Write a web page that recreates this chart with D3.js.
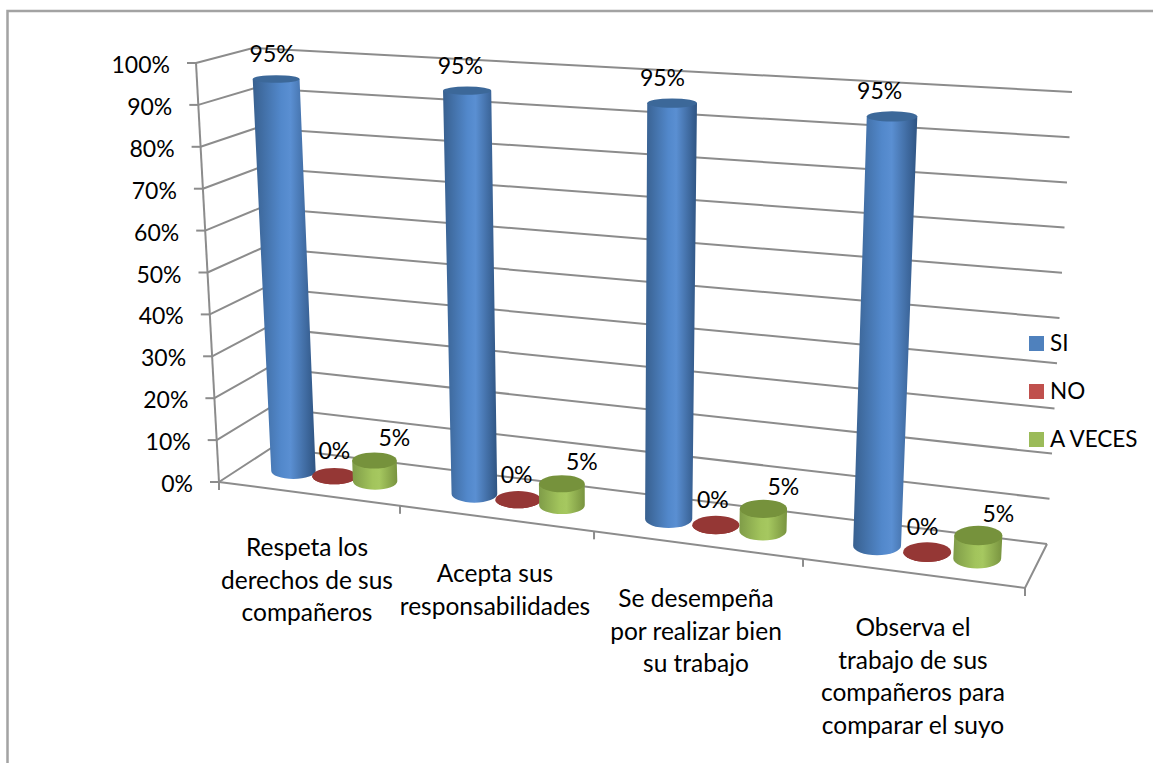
<!DOCTYPE html>
<html>
<head>
<meta charset="utf-8">
<script src="https://cdnjs.cloudflare.com/ajax/libs/d3/7.8.5/d3.min.js"></script>
<style>
  html, body { margin: 0; padding: 0; background: #fff; }
  text { font-family: Lato, "Open Sans", sans-serif; fill: #000; }
</style>
</head>
<body>
<svg id="chart"></svg>
<script>
let categories = [
  ["Respeta los", "derechos de sus", "compañeros"],
  ["Acepta sus", "responsabilidades"],
  ["Se desempeña", "por realizar bien", "su trabajo"],
  ["Observa el", "trabajo de sus", "compañeros para", "comparar el suyo"]
];
let seriesNames = ["SI", "NO", "A VECES"];
let si = [95, 95, 95, 95],
    no = [0, 0, 0, 0],
    aVeces = [5, 5, 5, 5];
let yTicks = [0, 10, 20, 30, 40, 50, 60, 70, 80, 90, 100];

let width = 1153, height = 763;

let svg = d3.select("#chart")
  .attr("width", width)
  .attr("height", height)
  .style("display", "block");

// Corners of the 3D box, as they land on the page
let frontLeft  = {bottom: [219, 482],   top: [196, 63]},
    frontRight = {bottom: [1025, 588],  top: [1050, 115]},
    backLeft   = {bottom: [272, 447.5], top: [253, 48]},
    backRight  = {bottom: [1047, 544],  top: [1072, 92]};

// perspective makes the categories wider as they go right
let xPos = d3.scaleLinear().domain([0, 1, 2, 3, 4]).range([0, 0.2246, 0.4653, 0.7246, 1]),
    yPos = d3.scaleLinear().domain([0, 100]).range([0, 1]);

function mix(a, b, t) {
  return [a[0] + (b[0] - a[0]) * t, a[1] + (b[1] - a[1]) * t];
}

// c = category position, depth = 0 front to 1 back, v = percent
function project(c, depth, v) {
  let tx = xPos(c), ty = yPos(v);
  let front = mix(mix(frontLeft.bottom, frontRight.bottom, tx), mix(frontLeft.top, frontRight.top, tx), ty),
      back  = mix(mix(backLeft.bottom, backRight.bottom, tx), mix(backLeft.top, backRight.top, tx), ty);
  return mix(front, back, depth);
}

// Gradients
let defs = svg.append("defs");
let bodyColors = [
  ["#38608f", "#5288cb", "#5a8fd2", "#2f5482"],
  ["#8f3230", "#a03c3a", "#a03c3a", "#8f3230"],
  ["#7f9c48", "#a2c45c", "#a6c860", "#78933f"]
];
let topColors = ["#3c6899", "#953735", "#76923c"];
bodyColors.forEach(function(stops, i) {
  let g = defs.append("linearGradient").attr("id", "body" + i);
  [0, 0.45, 0.6, 1].forEach(function(o, j) {
    g.append("stop").attr("offset", o).attr("stop-color", stops[j]);
  });
});

// Chart frame
svg.append("path")
  .attr("d", "M7.5," + height + "V11H" + width)
  .attr("fill", "none")
  .attr("stroke", "#a3a3a3")
  .attr("stroke-width", 2.5);

// Walls
let gridColor = "#8c8c8c";
let grid = svg.append("g").attr("fill", "none").attr("stroke", gridColor).attr("stroke-width", 2);
let lineGen = d3.line();

yTicks.forEach(function(v) {
  grid.append("path").attr("d", lineGen([project(0, 0, v), project(0, 1, v), project(4, 1, v)]));
  let p = project(0, 0, v);
  grid.append("path").attr("d", lineGen([[p[0] - 9, p[1]], p]));
});
grid.append("path").attr("d", lineGen([project(0, 0, 100), project(0, 0, 0)]));
grid.append("path").attr("d", lineGen([project(0, 0, 0), project(4, 0, 0), project(4, 1, 0)]));
d3.range(0, 5).forEach(function(c) {
  let p = project(c, 0, 0);
  grid.append("path").attr("d", lineGen([p, [p[0], p[1] + 8]]));
});

// Cylinders
let barStep = 0.23, depthMid = 0.5, depthRadius = 0.23;
let barRadius = d3.scaleLinear().domain([0, 3]).range([0.125, 0.11]);
let seriesValues = [si, no, aVeces];

let bars = [];
categories.forEach(function(cat, i) {
  seriesNames.forEach(function(name, s) {
    bars.push({i: i, c: i + 0.5 + (s - 1) * barStep, value: seriesValues[s][i], s: s});
  });
});

function ellipseAt(d, v) {
  let r = barRadius(d.i),
      center = project(d.c, depthMid, v),
      rx = (project(d.c + r, depthMid, v)[0] - project(d.c - r, depthMid, v)[0]) / 2,
      ry = (project(d.c, depthMid + depthRadius, v)[1] - project(d.c, depthMid - depthRadius, v)[1]) / -2;
  return {x: center[0], y: center[1], rx: rx, ry: ry};
}

let barGroups = svg.append("g").selectAll("g")
  .data(bars)
  .join("g");

barGroups.append("path")
  .attr("fill", function(d) { return "url(#body" + d.s + ")"; })
  .attr("d", function(d) {
    let t = ellipseAt(d, d.value), b = ellipseAt(d, 0);
    return "M" + (t.x - t.rx) + "," + t.y +
      "L" + (b.x - b.rx) + "," + b.y +
      "A" + b.rx + "," + b.ry + " 0 0 0 " + (b.x + b.rx) + "," + b.y +
      "L" + (t.x + t.rx) + "," + t.y + "Z";
  });

barGroups.append("ellipse")
  .attr("fill", function(d) { return topColors[d.s]; })
  .each(function(d) {
    let t = ellipseAt(d, d.value);
    d3.select(this).attr("cx", t.x).attr("cy", t.y).attr("rx", t.rx).attr("ry", t.ry);
  });

// Data labels, the offset drifts a little along the categories
let labelShift = [[-4, -17], [0, -17], [20, -14]],
    labelDrift = [-2.8, -1.5, 0];
svg.append("g").selectAll("text")
  .data(bars)
  .join("text")
  .attr("text-anchor", "middle")
  .style("font-size", "23px")
  .attr("x", function(d) { return project(d.c, depthMid, d.value)[0] + labelShift[d.s][0] + labelDrift[d.s] * d.i; })
  .attr("y", function(d) { return project(d.c, depthMid, d.value)[1] + labelShift[d.s][1]; })
  .text(function(d) { return d.value + "%"; });

// Y tick labels
svg.append("g").selectAll("text")
  .data(yTicks)
  .join("text")
  .attr("text-anchor", "end")
  .style("font-size", "23px")
  .attr("x", function(v) { return project(0, 0, v)[0] - 26; })
  .attr("y", function(v) { return project(0, 0, v)[1] + 10; })
  .text(function(v) { return v + "%"; });

// Category labels
let catCenter = [307, 495, 696, 913];
let catTop = [556, 582, 607, 636];
categories.forEach(function(lines, i) {
  svg.append("text")
    .attr("text-anchor", "middle")
    .style("font-size", "24.5px")
    .selectAll("tspan")
    .data(lines)
    .join("tspan")
    .attr("x", catCenter[i])
    .attr("y", function(d, j) { return catTop[i] + j * 32.6; })
    .text(function(d) { return d; });
});

// Legend
let legendColors = ["#4f81bd", "#c0504d", "#9bbb59"];
let legendY = d3.scalePoint().domain(seriesNames).range([336, 432]);
let legend = svg.append("g").selectAll("g")
  .data(seriesNames)
  .join("g")
  .attr("transform", function(d) { return "translate(1029," + legendY(d) + ")"; });
legend.append("rect")
  .attr("width", 15)
  .attr("height", 15)
  .attr("fill", function(d, i) { return legendColors[i]; });
legend.append("text")
  .attr("x", 21)
  .attr("y", 15)
  .style("font-size", "22.5px")
  .text(function(d) { return d; });
</script>
</body>
</html>
